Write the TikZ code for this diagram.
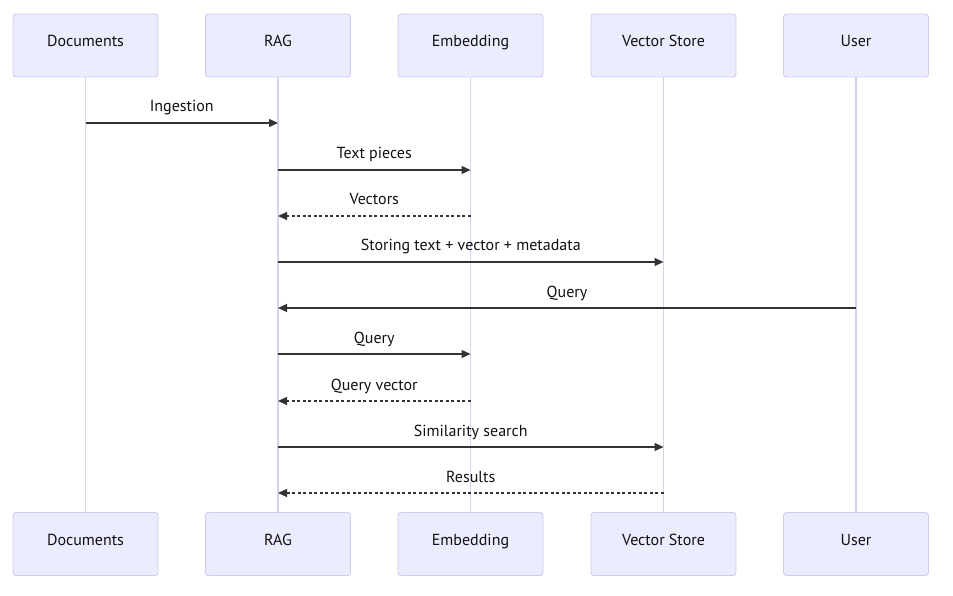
\documentclass[tikz,border=0pt]{standalone}
\usepackage{fontspec}
\setmainfont{PT Sans}
\usetikzlibrary{arrows.meta}
\definecolor{boxfill}{HTML}{ECECFF}
\definecolor{boxdraw}{HTML}{CFCBEE}
\definecolor{lifeln}{HTML}{D6D2F2}
\definecolor{msg}{HTML}{333333}
\definecolor{txt}{HTML}{111111}
\begin{document}
\begin{tikzpicture}[x=1pt,y=-1pt,
  actor/.style={draw=boxdraw,fill=boxfill,line width=0.9pt,rounded corners=3pt,minimum width=145pt,minimum height=63pt,inner sep=0pt,text height=8pt,text depth=6pt,font=\fontsize{16}{19}\selectfont,text=txt},
  lifeline/.style={draw=lifeln,line width=1.8pt},
  sync/.style={draw=msg,line width=1.3pt,-{Triangle[length=9pt,width=8pt]}},
  reply/.style={sync,dash pattern=on 3pt off 2.5pt},
  lbl/.style={font=\fontsize{16}{19}\selectfont,text=txt,inner sep=0pt,anchor=base}]
\useasboundingbox (0,0) rectangle (953,596);
\foreach \n/\x/\t in {1/85.5/Documents,2/278/RAG,3/470.5/Embedding,4/663.5/Vector Store,5/856/User}{
  \node[actor] (t\n) at (\x,45.5) {\t};
  \node[actor] (b\n) at (\x,544) {\t};
  \draw[lifeline] (t\n.south) -- (b\n.north);
}
% message endpoints
\foreach \i/\y in {1/123,2/170,3/216,4/262,5/308,6/354,7/401,8/447,9/493}{
  \foreach \n/\x in {1/85.5,2/278,3/470.5,4/663.5,5/856}{
    \coordinate (p\i-\n) at (\x,\y);
  }
}
\draw[sync] (p1-1) -- (p1-2) node[lbl,midway,yshift=11pt] {Ingestion};
\draw[sync] (p2-2) -- (p2-3) node[lbl,midway,yshift=11pt] {Text pieces};
\draw[reply] (p3-3) -- (p3-2) node[lbl,midway,yshift=11pt] {Vectors};
\draw[sync] (p4-2) -- (p4-4) node[lbl,midway,yshift=11pt] {Storing text + vector + metadata};
\draw[sync] (p5-5) -- (p5-2) node[lbl,midway,yshift=11pt] {Query};
\draw[sync] (p6-2) -- (p6-3) node[lbl,midway,yshift=11pt] {Query};
\draw[reply] (p7-3) -- (p7-2) node[lbl,midway,yshift=11pt] {Query vector};
\draw[sync] (p8-2) -- (p8-4) node[lbl,midway,yshift=11pt] {Similarity search};
\draw[reply] (p9-4) -- (p9-2) node[lbl,midway,yshift=11pt] {Results};
\end{tikzpicture}
\end{document}
